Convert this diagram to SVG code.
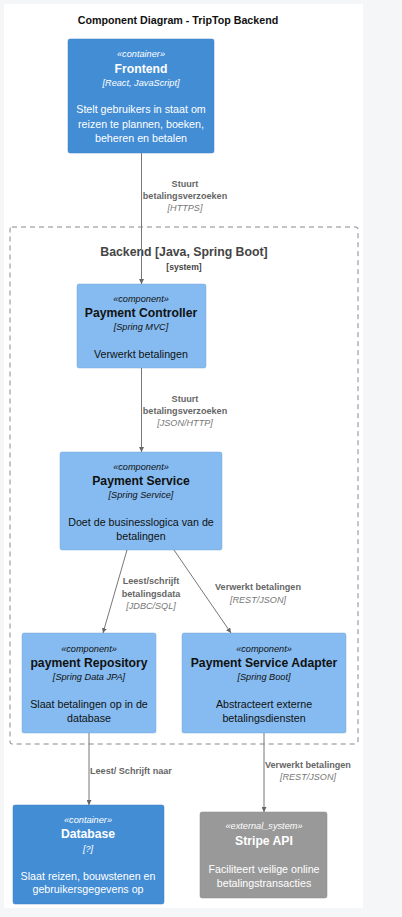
<svg xmlns="http://www.w3.org/2000/svg" width="402" height="917" viewBox="0 0 402 917">
<style>
text{font-family:"Liberation Sans",Arial,sans-serif;text-anchor:middle}
.title{font-size:10.7px;font-weight:bold;fill:#111}
.typ{font-size:9.2px;font-style:italic}
.name{font-size:12.2px;font-weight:bold}
.tech{font-size:9.2px;font-style:italic}
.desc{font-size:10.7px}
.w text{fill:#fff}
.d text{fill:#111}
.container{fill:#438dd5;stroke:#3c7fc0;stroke-width:0.5}
.component{fill:#85bbf0;stroke:#78a8d8;stroke-width:0.5}
.ext{fill:#999;stroke:#8a8a8a;stroke-width:0.5}
.edge{stroke:#777;stroke-width:1;fill:none;marker-end:url(#arr)}
.el{font-size:9.1px;font-weight:bold;fill:#666}
.et{font-size:9.1px;font-style:italic;fill:#777}
.bnd{fill:none;stroke:#888;stroke-width:1;stroke-dasharray:5,4}
.bl{font-size:12.3px;font-weight:bold;fill:#444}
.bt{font-size:8.6px;font-weight:bold;fill:#444}
</style>
<defs>
<marker id="arr" viewBox="0 0 10 10" refX="10" refY="5" markerWidth="5" markerHeight="5" orient="auto" markerUnits="userSpaceOnUse">
<path d="M0,0 L10,5 L0,10 z" fill="#666"/>
</marker>
</defs>
<rect x="0" y="0" width="402" height="917" fill="#f5f6f8"/>
<rect x="4" y="4" width="359" height="904" fill="#fff"/>
<text class="title" x="178" y="24">Component Diagram - TripTop Backend</text>

<g id="backend-boundary">
<rect class="bnd" x="10" y="227" width="348" height="517" rx="2"/>
<text class="bl" x="184" y="256">Backend [Java, Spring Boot]</text>
<text class="bt" x="184" y="270">[system]</text>
</g>

<g id="frontend" class="w">
<rect class="container" x="68" y="39" width="146" height="114" rx="2"/>
<text class="typ" x="141" y="57">«container»</text>
<text class="name" x="141" y="73">Frontend</text>
<text class="tech" x="141" y="86">[React, JavaScript]</text>
<text class="desc" x="141" y="113">Stelt gebruikers in staat om</text>
<text class="desc" x="141" y="128">reizen te plannen, boeken,</text>
<text class="desc" x="141" y="142">beheren en betalen</text>
</g>

<g id="payment-controller" class="d">
<rect class="component" x="77" y="284" width="129" height="84" rx="2"/>
<text class="typ" x="141" y="302">«component»</text>
<text class="name" x="141" y="317">Payment Controller</text>
<text class="tech" x="141" y="330">[Spring MVC]</text>
<text class="desc" x="141" y="358">Verwerkt betalingen</text>
</g>

<g id="payment-service" class="d">
<rect class="component" x="60" y="452" width="162" height="98" rx="2"/>
<text class="typ" x="141" y="470">«component»</text>
<text class="name" x="141" y="485">Payment Service</text>
<text class="tech" x="141" y="498">[Spring Service]</text>
<text class="desc" x="141" y="526">Doet de businesslogica van de</text>
<text class="desc" x="141" y="540">betalingen</text>
</g>

<g id="payment-repository" class="d">
<rect class="component" x="22" y="633" width="134" height="100" rx="2"/>
<text class="typ" x="89" y="652">«component»</text>
<text class="name" x="89" y="667">payment Repository</text>
<text class="tech" x="89" y="680">[Spring Data JPA]</text>
<text class="desc" x="89" y="708">Slaat betalingen op in de</text>
<text class="desc" x="89" y="722">database</text>
</g>

<g id="payment-service-adapter" class="d">
<rect class="component" x="182" y="633" width="164" height="100" rx="2"/>
<text class="typ" x="264" y="652">«component»</text>
<text class="name" x="264" y="667">Payment Service Adapter</text>
<text class="tech" x="264" y="680">[Spring Boot]</text>
<text class="desc" x="264" y="708">Abstracteert externe</text>
<text class="desc" x="264" y="722">betalingsdiensten</text>
</g>

<g id="database" class="w">
<rect class="container" x="13" y="805" width="151" height="99" rx="2"/>
<text class="typ" x="88" y="823">«container»</text>
<text class="name" x="88" y="838">Database</text>
<text class="tech" x="88" y="852">[?]</text>
<text class="desc" x="88" y="880">Slaat reizen, bouwstenen en</text>
<text class="desc" x="88" y="893">gebruikersgegevens op</text>
</g>

<g id="stripe-api" class="w">
<rect class="ext" x="200" y="812" width="127" height="86" rx="2"/>
<text class="typ" x="264" y="829">«external_system»</text>
<text class="name" x="264" y="845">Stripe API</text>
<text class="desc" x="264" y="873">Faciliteert veilige online</text>
<text class="desc" x="264" y="887">betalingstransacties</text>
</g>

<g id="connectors">
<line class="edge" x1="141.5" y1="153" x2="141.5" y2="284"/>
<text class="el" x="185" y="187">Stuurt</text>
<text class="el" x="185" y="199">betalingsverzoeken</text>
<text class="et" x="185" y="211">[HTTPS]</text>

<line class="edge" x1="141.5" y1="368" x2="141.5" y2="452"/>
<text class="el" x="185" y="402">Stuurt</text>
<text class="el" x="185" y="414">betalingsverzoeken</text>
<text class="et" x="185" y="426">[JSON/HTTP]</text>

<line class="edge" x1="127" y1="550" x2="103" y2="633"/>
<text class="el" x="151" y="584">Leest/schrijft</text>
<text class="el" x="151" y="597">betalingsdata</text>
<text class="et" x="151" y="609">[JDBC/SQL]</text>

<line class="edge" x1="174" y1="550" x2="231" y2="633"/>
<text class="el" x="258" y="590">Verwerkt betalingen</text>
<text class="et" x="258" y="603">[REST/JSON]</text>

<line class="edge" x1="89" y1="733" x2="89" y2="805"/>
<text class="el" x="90" y="774" style="text-anchor:start">Leest/ Schrijft naar</text>

<line class="edge" x1="264" y1="733" x2="264" y2="812"/>
<text class="el" x="265" y="768" style="text-anchor:start">Verwerkt betalingen</text>
<text class="et" x="308" y="780">[REST/JSON]</text>
</g>
</svg>
